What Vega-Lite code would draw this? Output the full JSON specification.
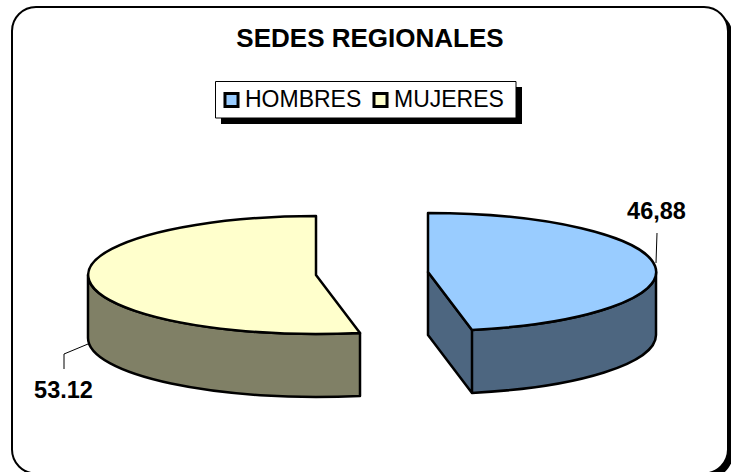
{
"$schema":"https://vega.github.io/schema/vega-lite/v6.json",
"width":731,"height":472,"padding":0,"autosize":{"type":"none"},
"background":"white",
"view":{"stroke":null},
"data":{"values":[
{"sede":"HOMBRES","porcentaje":46.88,"etiqueta":"46,88"},
{"sede":"MUJERES","porcentaje":53.12,"etiqueta":"53.12"}]},
"layer":[
{"data":{"values":[{"k":"marco"}]},"mark":{"type":"rect","fill":"black","cornerRadius":24},"encoding":{"x":{"value":17},"x2":{"value":733},"y":{"value":12},"y2":{"value":478}}},
{"data":{"values":[{"k":"marco"}]},"mark":{"type":"rect","fill":"white","stroke":"black","strokeWidth":2,"cornerRadius":24},"encoding":{"x":{"value":12},"x2":{"value":728},"y":{"value":7},"y2":{"value":473.5}}},
{"data":{"values":[{"k":"leyenda"}]},"mark":{"type":"rect","fill":"black"},"encoding":{"x":{"value":221},"x2":{"value":522},"y":{"value":87},"y2":{"value":124}}},
{"data":{"values":[{"k":"leyenda"}]},"mark":{"type":"rect","fill":"white","stroke":"black","strokeWidth":1},"encoding":{"x":{"value":215.5},"x2":{"value":516},"y":{"value":81.5},"y2":{"value":118}}},
{"data":{"values":[{"titulo":"SEDES REGIONALES"}]},"mark":{"type":"text","font":"Liberation Sans","fontSize":26,"fontWeight":"bold","color":"black","baseline":"alphabetic","align":"center"},"encoding":{"x":{"value":370},"y":{"value":47},"text":{"field":"titulo","type":"nominal"}}},
{"mark":{"type":"point","filled":true,"stroke":"black","strokeWidth":2.5,"opacity":1,"size":4,"strokeJoin":"round"},
"encoding":{
"x":{"field":"sede","type":"nominal","axis":null,"scale":{"type":"point","padding":0,"domain":["HOMBRES","MUJERES"],"range":[428,316]}},
"y":{"field":"sede","type":"nominal","axis":null,"scale":{"type":"point","padding":0,"domain":["HOMBRES","MUJERES"],"range":[272,275]}},
"fill":{"condition":{"test":"datum.sede === 'HOMBRES'","value":"#4D6680"},"value":"#808066"},
"shape":{"field":"sede","type":"nominal","legend":null,"scale":{"domain":["HOMBRES","MUJERES"],"range":[
"M228 0L228 63A228 59 0 0 1 44 120.9L44 57.9A228 59 0 0 0 228 0ZM0 0L44 57.9L44 120.9L0 63Z",
"M-228 0L-228 63A228 59 0 0 0 44 120.9L44 57.9A228 59 0 0 1 -228 0Z"]}}
}},
{"mark":{"type":"point","filled":true,"stroke":"black","strokeWidth":2.5,"opacity":1,"size":4,"strokeJoin":"round"},
"encoding":{
"x":{"field":"sede","type":"nominal","axis":null,"scale":{"type":"point","padding":0,"domain":["HOMBRES","MUJERES"],"range":[428,316]}},
"y":{"field":"sede","type":"nominal","axis":null,"scale":{"type":"point","padding":0,"domain":["HOMBRES","MUJERES"],"range":[272,275]}},
"fill":{"field":"sede","type":"nominal","scale":{"domain":["HOMBRES","MUJERES"],"range":["#99CCFF","#FFFFCC"]},
"legend":{"title":null,"orient":"none","legendX":215,"legendY":83,"direction":"horizontal","columns":2,"symbolType":"square","symbolSize":170,"symbolStrokeColor":"black","symbolStrokeWidth":3,"symbolOpacity":1,"padding":5,"labelFont":"Liberation Sans","labelFontSize":23,"labelColor":"black","labelOffset":2,"columnPadding":5,"zindex":1}},
"shape":{"field":"sede","type":"nominal","legend":null,"scale":{"domain":["HOMBRES","MUJERES"],"range":[
"M0 -59A228 59 0 0 1 44 57.9L0 0Z",
"M0 -59L0 0L44 57.9A228 59 0 1 1 0 -59Z"]}}
}},
{"mark":{"type":"point","filled":false,"stroke":"black","strokeWidth":1,"opacity":1,"size":4},
"encoding":{
"x":{"field":"sede","type":"nominal","axis":null,"scale":{"type":"point","padding":0,"domain":["HOMBRES","MUJERES"],"range":[428,316]}},
"y":{"field":"sede","type":"nominal","axis":null,"scale":{"type":"point","padding":0,"domain":["HOMBRES","MUJERES"],"range":[272,275]}},
"shape":{"field":"sede","type":"nominal","legend":null,"scale":{"domain":["HOMBRES","MUJERES"],"range":[
"M228 -9L229 -39",
"M-228 69L-252 79L-252 94"]}}
}},
{"mark":{"type":"text","font":"Liberation Sans","fontSize":23.5,"fontWeight":"bold","color":"black","baseline":"alphabetic","align":"center"},
"encoding":{
"x":{"field":"sede","type":"nominal","axis":null,"scale":{"type":"point","padding":0,"domain":["HOMBRES","MUJERES"],"range":[656.5,63.5]}},
"y":{"field":"sede","type":"nominal","axis":null,"scale":{"type":"point","padding":0,"domain":["HOMBRES","MUJERES"],"range":[219,398]}},
"text":{"field":"etiqueta","type":"nominal"}
}}
],
"resolve":{"scale":{"x":"independent","y":"independent","shape":"independent"}}
}
